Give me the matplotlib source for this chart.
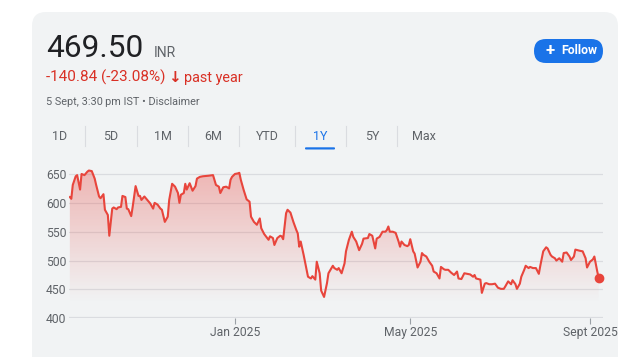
import matplotlib
matplotlib.use("Agg")
import matplotlib.pyplot as plt
import matplotlib.dates as mdates
from matplotlib.patches import FancyBboxPatch, PathPatch
import numpy as np
import pandas as pd

# price history (INR)
dates = [
    "2024-09-10", "2024-09-11", "2024-09-12", "2024-09-14", "2024-09-15", "2024-09-17",
    "2024-09-18", "2024-09-20", "2024-09-22", "2024-09-23", "2024-09-25", "2024-09-27",
    "2024-09-28", "2024-09-30", "2024-10-01", "2024-10-03", "2024-10-04", "2024-10-06",
    "2024-10-07", "2024-10-09", "2024-10-10", "2024-10-12", "2024-10-13", "2024-10-15",
    "2024-10-16", "2024-10-18", "2024-10-19", "2024-10-20", "2024-10-22", "2024-10-23",
    "2024-10-25", "2024-10-27", "2024-10-28", "2024-10-29", "2024-10-31", "2024-11-02",
    "2024-11-04", "2024-11-06", "2024-11-07", "2024-11-09", "2024-11-11", "2024-11-12",
    "2024-11-14", "2024-11-16", "2024-11-17", "2024-11-19", "2024-11-21", "2024-11-23",
    "2024-11-24", "2024-11-25", "2024-11-27", "2024-11-28", "2024-11-29", "2024-12-01",
    "2024-12-03", "2024-12-05", "2024-12-06", "2024-12-08", "2024-12-10", "2024-12-14",
    "2024-12-17", "2024-12-19", "2024-12-21", "2024-12-22", "2024-12-24", "2024-12-26",
    "2024-12-28", "2024-12-29", "2024-12-30", "2025-01-01", "2025-01-03", "2025-01-04",
    "2025-01-05", "2025-01-07", "2025-01-09", "2025-01-11", "2025-01-12", "2025-01-14",
    "2025-01-16", "2025-01-18", "2025-01-19", "2025-01-21", "2025-01-24", "2025-01-25",
    "2025-01-27", "2025-01-28", "2025-01-30", "2025-02-01", "2025-02-02", "2025-02-03",
    "2025-02-05", "2025-02-06", "2025-02-08", "2025-02-10", "2025-02-12", "2025-02-13",
    "2025-02-14", "2025-02-15", "2025-02-17", "2025-02-19", "2025-02-20", "2025-02-22",
    "2025-02-23", "2025-02-25", "2025-02-26", "2025-02-28", "2025-03-01", "2025-03-03",
    "2025-03-05", "2025-03-06", "2025-03-09", "2025-03-10", "2025-03-12", "2025-03-13",
    "2025-03-15", "2025-03-17", "2025-03-18", "2025-03-20", "2025-03-22", "2025-03-23",
    "2025-03-25", "2025-03-27", "2025-03-29", "2025-03-30", "2025-04-02", "2025-04-03",
    "2025-04-05", "2025-04-07", "2025-04-08", "2025-04-10", "2025-04-12", "2025-04-14",
    "2025-04-15", "2025-04-16", "2025-04-17", "2025-04-19", "2025-04-21", "2025-04-23",
    "2025-04-24", "2025-04-25", "2025-04-27", "2025-04-29", "2025-04-30", "2025-05-01",
    "2025-05-03", "2025-05-04", "2025-05-06", "2025-05-08", "2025-05-09", "2025-05-10",
    "2025-05-12", "2025-05-14", "2025-05-16", "2025-05-17", "2025-05-19", "2025-05-21",
    "2025-05-22", "2025-05-24", "2025-05-25", "2025-05-27", "2025-05-29", "2025-05-31",
    "2025-06-02", "2025-06-03", "2025-06-05", "2025-06-07", "2025-06-09", "2025-06-11",
    "2025-06-13", "2025-06-14", "2025-06-15", "2025-06-18", "2025-06-19", "2025-06-21",
    "2025-06-22", "2025-06-24", "2025-06-26", "2025-06-28", "2025-06-30", "2025-07-02",
    "2025-07-04", "2025-07-05", "2025-07-07", "2025-07-09", "2025-07-10", "2025-07-12",
    "2025-07-13", "2025-07-15", "2025-07-16", "2025-07-18", "2025-07-19", "2025-07-21",
    "2025-07-22", "2025-07-24", "2025-07-26", "2025-07-28", "2025-07-29", "2025-07-31",
    "2025-08-02", "2025-08-03", "2025-08-05", "2025-08-06", "2025-08-08", "2025-08-09",
    "2025-08-11", "2025-08-13", "2025-08-14", "2025-08-16", "2025-08-18", "2025-08-19",
    "2025-08-21", "2025-08-22", "2025-08-25", "2025-08-27", "2025-08-29", "2025-08-30",
    "2025-09-01", "2025-09-03", "2025-09-04", "2025-09-06", "2025-09-07",
]
prices = [
    610, 607, 631, 646, 648, 623,
    650, 648, 654, 656, 655, 642,
    631, 611, 608, 615, 588, 579,
    543, 590, 592, 589, 592, 593,
    612, 610, 590, 589, 577, 593,
    629, 612, 612, 605, 611, 605,
    599, 590, 600, 597, 590, 588,
    567, 576, 605, 633, 628, 617,
    600, 614, 617, 633, 623, 634,
    621, 629, 642, 645, 646, 647,
    648, 631, 628, 617, 627, 628,
    625, 640, 645, 650, 651, 652,
    640, 622, 606, 602, 576, 567,
    562, 573, 556, 546, 536, 542,
    539, 527, 539, 543, 542, 537,
    582, 588, 583, 567, 553, 547,
    524, 533, 510, 484, 472, 469,
    473, 467, 498, 478, 448, 437,
    461, 478, 491, 487, 484, 487,
    478, 495, 516, 536, 550, 541,
    533, 518, 529, 538, 539, 546,
    543, 521, 538, 541, 550, 550,
    553, 559, 550, 550, 548, 533,
    524, 533, 527, 525, 527, 537,
    516, 512, 488, 498, 513, 510,
    507, 498, 491, 481, 478, 469,
    489, 485, 484, 484, 479, 475,
    481, 469, 468, 478, 477, 476,
    472, 475, 469, 467, 444, 460,
    461, 459, 459, 460, 453, 451,
    451, 455, 464, 459, 466, 459,
    451, 460, 472, 484, 491, 487,
    489, 487, 487, 477, 491, 516,
    523, 521, 510, 507, 504, 500,
    504, 498, 513, 514, 507, 501,
    507, 519, 517, 516, 504, 488,
    498, 502, 507, 481, 469.50,
]

y_ticks = [400, 450, 500, 550, 600, 650]
x_tick_dates = ["2025-01-01", "2025-05-01", "2025-09-01"]
x_tick_labels = ["Jan 2025", "May 2025", "Sept 2025"]
ranges = ["1D", "5D", "1M", "6M", "YTD", "1Y", "5Y", "Max"]
selected_range = "1Y"

RED = "#e8453c"
BLUE = "#1a73e8"
GREY_TXT = "#5f6368"
GRID = "#dadce0"

plt.rcParams["font.family"] = ["Roboto", "DejaVu Sans"]

fig = plt.figure(figsize=(6.3, 3.57), dpi=100)
fig.patch.set_facecolor("white")

# pixel-space overlay for the card + header
ov = fig.add_axes([0, 0, 1, 1], zorder=0)
ov.set_xlim(0, 630)
ov.set_ylim(357, 0)
ov.axis("off")
ov.add_patch(FancyBboxPatch((32, 12), 586, 380, boxstyle="round,pad=0,rounding_size=14",
                            fc="#f1f3f4", ec="none"))

ov.text(46, 57, "469.50", fontsize=22.8, color="#202124", va="baseline")
ov.text(154, 57, "INR", fontsize=10, color=GREY_TXT, va="baseline")
ov.text(46, 82, "-140.84 (-23.08%)", fontsize=11, color="#d93025", va="baseline")
ov.text(174.5, 82, "\u2193", fontsize=11, color="#d93025", va="baseline", ha="center",
        fontweight="bold", family=["DejaVu Sans"])
ov.text(184, 82, "past year", fontsize=10.4, color="#d93025", va="baseline")
ov.text(46, 105, "5 Sept, 3:30\u2009pm IST \u2022 Disclaimer", fontsize=7.8, color=GREY_TXT,
        va="baseline", family=["Roboto", "DejaVu Sans"])

# follow button
ov.add_patch(FancyBboxPatch((534, 39), 69, 24, boxstyle="round,pad=0,rounding_size=12",
                            fc=BLUE, ec="none"))
ov.text(550, 51, "+", fontsize=12, color="white", ha="center", va="center", fontweight="bold")
ov.text(561, 51, "Follow", fontsize=8.8, color="white", ha="left", va="center", fontweight="bold")

# range tabs
tab_x = [60, 111, 163, 213, 267, 320, 372, 424]
sep_x = [85, 137, 188, 239, 295, 346, 397]
for lbl, tx in zip(ranges, tab_x):
    c = BLUE if lbl == selected_range else GREY_TXT
    ov.text(tx, 136, lbl, fontsize=9, color=c, ha="center", va="center")
for sx in sep_x:
    ov.plot([sx, sx], [126, 146], color=GRID, lw=0.8)
ov.add_patch(FancyBboxPatch((305, 147.3), 30, 2.2, boxstyle="round,pad=0,rounding_size=1",
                            fc=BLUE, ec="none"))

# price chart
ax = fig.add_axes([69 / 630, (357 - 318.3) / 357, 534 / 630, (318.3 - 168.2) / 357], zorder=1)
ax.patch.set_alpha(0)
x = pd.to_datetime(dates)
y = np.array(prices)

ax.set_ylim(400, 660)
xl = (pd.Timestamp("2024-09-09 10:00"), pd.Timestamp("2025-09-09 22:00"))
ax.set_xlim(xl)

# gradient fill under the line
poly = ax.fill_between(x, y, 400, color="none", lw=0)
clip = PathPatch(poly.get_paths()[0], transform=ax.transData, fc="none", ec="none")
ax.add_patch(clip)
grad = np.zeros((256, 1, 4))
grad[..., 0], grad[..., 1], grad[..., 2] = 0.91, 0.27, 0.24
grad[:, 0, 3] = np.clip(np.linspace(0.36, -0.04, 256), 0, None)
img = ax.imshow(grad, aspect="auto", origin="upper",
                extent=[mdates.date2num(xl[0]), mdates.date2num(xl[1]), 400, 660], zorder=1)
img.set_clip_path(clip)

ax.plot(x, y, color=RED, lw=1.5, zorder=3, solid_joinstyle="round")
ax.plot(x[-1:], y[-1:], "o", color=RED, ms=6, zorder=4, clip_on=False)

for v in y_ticks[1:]:
    ax.axhline(v, color=GRID, lw=0.9, zorder=0)
ax.axhline(400, color=GRID, lw=1.6, zorder=0)

for s in ax.spines.values():
    s.set_visible(False)
ax.set_yticks(y_ticks)
ax.tick_params(axis="y", length=0, pad=2, labelsize=8.7, labelcolor=GREY_TXT)
ax.set_xticks(pd.to_datetime(x_tick_dates))
ax.set_xticklabels(x_tick_labels)
ax.tick_params(axis="x", length=4, width=0.8, color="#9aa0a6", pad=1.5,
               labelsize=8.7, labelcolor=GREY_TXT)

fig.savefig("out.png", dpi=100)
